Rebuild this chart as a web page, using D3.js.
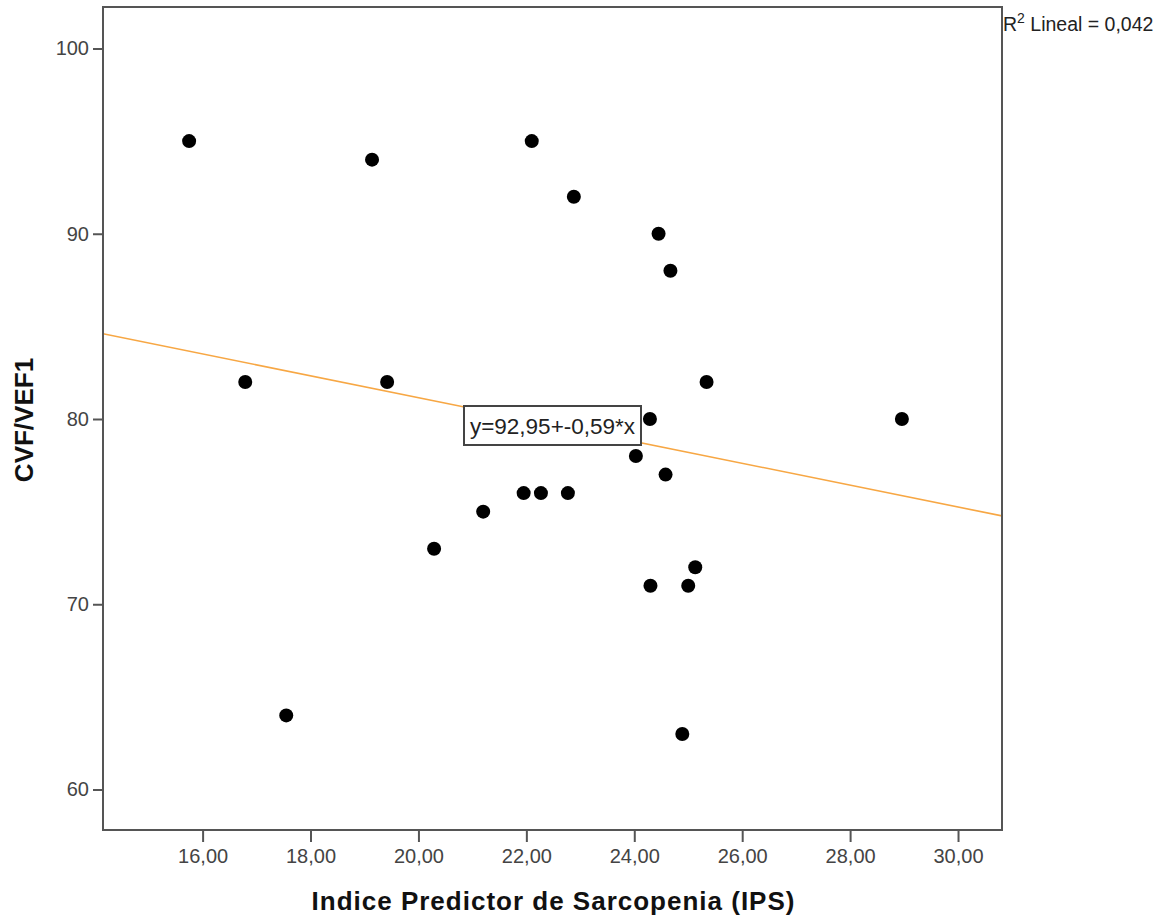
<!DOCTYPE html>
<html><head><meta charset="utf-8">
<script src="https://cdn.jsdelivr.net/npm/d3@7"></script>
<style>body{margin:0;background:#fff}</style>
</head><body>
<svg id="c" width="1167" height="921"></svg>
<script>
const ipsValues = [15.75,16.79,17.55,19.14,19.42,20.29,21.20,21.95,22.27,22.10,22.77,22.88,24.03,24.29,24.30,24.45,24.58,24.67,24.89,25.00,25.13,25.34,28.96];
const cvfValues = [95,82,64,94,82,73,75,76,76,95,76,92,78,80,71,90,77,88,63,71,72,82,80];
const xTicks = [16,18,20,22,24,26,28,30];
const yTicks = [60,70,80,90,100];
const fitIntercept = 92.95, fitSlope = -0.59;
const fitLabel = "y=92,95+-0,59*x";
const r2Label = "0,042";

const svg = d3.select("#c");
const L=103, R=1002, T=7, B=830;
const x = d3.scaleLinear().domain([14.154, 30.815]).range([L, R]);
const y = d3.scaleLinear().domain([57.814, 102.24]).range([B, T]);
const fmt = d => d.toFixed(2).replace(".", ",");
const axisCol = "#555";
const ff = "Liberation Sans, Arial, sans-serif";

svg.append("clipPath").attr("id","clip").append("rect").attr("x",L).attr("y",T).attr("width",R-L).attr("height",B-T);

// fit line
const xd = x.domain();
svg.append("line").attr("clip-path","url(#clip)")
  .attr("x1",x(xd[0])).attr("y1",y(fitIntercept+fitSlope*xd[0]))
  .attr("x2",x(xd[1])).attr("y2",y(fitIntercept+fitSlope*xd[1]))
  .attr("stroke","#f7a744").attr("stroke-width",1.6);

// frame
svg.append("rect").attr("x",L).attr("y",T).attr("width",R-L).attr("height",B-T)
  .attr("fill","none").attr("stroke",axisCol).attr("stroke-width",2);

// axes
const xa = svg.append("g").attr("transform",`translate(0,${B})`)
  .call(d3.axisBottom(x).tickValues(xTicks).tickFormat(fmt).tickSize(12).tickPadding(7));
const ya = svg.append("g").attr("transform",`translate(${L},0)`)
  .call(d3.axisLeft(y).tickValues(yTicks).tickSize(10).tickPadding(4));
[xa,ya].forEach(g=>{
  g.select(".domain").remove();
  g.selectAll(".tick line").attr("stroke",axisCol).attr("stroke-width",2);
  g.selectAll(".tick text").attr("fill","#444").style("font-family",ff).style("font-size","20px");
});

// points
svg.append("g").selectAll("circle").data(ipsValues.map((v,i)=>[v,cvfValues[i]])).join("circle")
  .attr("cx",d=>x(d[0])).attr("cy",d=>y(d[1])).attr("r",7).attr("fill","#000");

// fit label box
const bx=464, by=406, bw=177, bh=39;
svg.append("rect").attr("x",bx).attr("y",by).attr("width",bw).attr("height",bh)
  .attr("fill","#fff").attr("stroke","#444").attr("stroke-width",2);
svg.append("text").attr("x",bx+bw/2).attr("y",by+bh/2+8).attr("text-anchor","middle")
  .style("font-family",ff).style("font-size","22.5px").attr("fill","#222")
  .text(fitLabel);

// R2 label
const rt = svg.append("text").attr("x",1003).attr("y",31)
  .style("font-family",ff).style("font-size","19.5px").attr("fill","#222");
rt.append("tspan").text("R");
rt.append("tspan").attr("dy",-8).style("font-size","14px").text("2");
rt.append("tspan").attr("dy",8).text(" Lineal = " + r2Label);

// axis titles
svg.append("text").attr("x",(312+795)/2).attr("y",910).attr("text-anchor","middle")
  .style("font-family",ff).style("font-size","26px").style("font-weight","bold").style("letter-spacing","1px").attr("fill","#111")
  .text("Indice Predictor de Sarcopenia (IPS)");
svg.append("text").attr("transform","translate(33,420) rotate(-90)").attr("text-anchor","middle")
  .style("font-family",ff).style("font-size","26px").style("font-weight","bold").attr("fill","#111")
  .text("CVF/VEF1");
</script>
</body></html>
